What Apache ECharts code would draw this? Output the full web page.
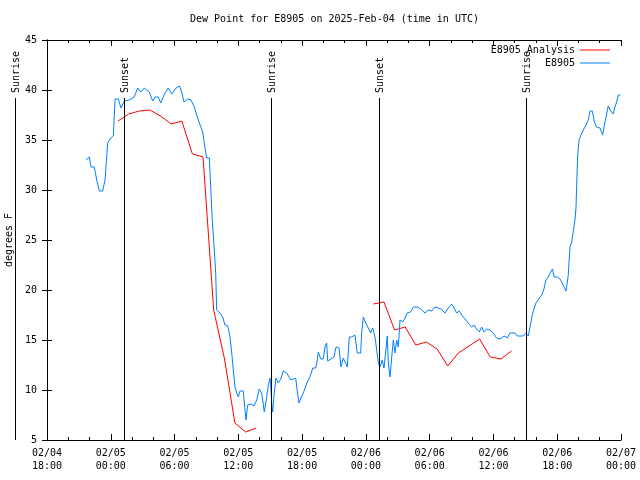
<!DOCTYPE html>
<html><head><meta charset="utf-8">
<script src="https://cdn.jsdelivr.net/npm/echarts@6/dist/echarts.min.js"></script>
<style>html,body{margin:0;padding:0;background:#fff}#c{width:640px;height:480px}</style>
</head><body><div id="c"></div>
<script>
// hours since 2025-02-04 18:00 UTC
const START_UTC = Date.UTC(2025, 1, 4, 18, 0);
const titleText = 'Dew Point for E8905 on 2025-Feb-04 (time in UTC)';
const stationName = 'E8905';
const analysisName = 'E8905 Analysis';

const stationHours = [3.67,3.98,4.14,4.45,4.68,4.92,5.24,5.46,5.71,5.93,6.24,6.40,6.71,6.96,7.27,7.74,8.21,8.53,8.84,9.15,9.62,9.94,10.16,10.47,10.70,11.10,11.41,11.73,12.14,12.45,12.67,12.89,13.24,13.55,13.86,14.23,14.65,14.86,15.02,15.27,15.40,15.55,15.74,15.87,15.93,15.96,16.27,16.53,16.74,17.00,17.22,17.38,17.53,17.69,17.85,18.00,18.16,18.47,18.56,18.72,18.88,19.19,19.47,19.73,19.97,20.20,20.44,20.60,20.82,20.98,21.04,21.14,21.23,21.38,21.54,21.76,21.99,22.23,22.55,22.95,23.40,23.55,23.71,23.89,24.11,24.27,24.49,24.74,25.00,25.28,25.43,25.52,25.75,25.99,26.15,26.31,26.41,26.56,27.00,27.19,27.47,27.66,27.87,28.03,28.25,28.44,28.66,28.97,29.19,29.51,29.60,29.76,29.98,30.23,30.45,30.64,30.86,31.02,31.17,31.33,31.54,31.70,31.86,32.01,32.11,32.27,32.43,32.58,32.74,32.90,33.05,33.21,33.46,33.68,33.89,34.21,34.46,34.84,35.16,35.34,35.56,35.87,36.19,36.50,36.81,37.06,37.44,37.75,38.07,38.29,38.54,38.79,39.01,39.32,39.63,39.95,40.17,40.42,40.67,40.89,41.11,41.36,41.67,41.98,42.30,42.62,42.87,43.09,43.30,43.56,44.03,44.24,44.81,45.06,45.28,45.44,45.69,46.00,46.31,46.54,46.75,46.94,47.16,47.38,47.55,47.71,48.02,48.27,48.55,48.83,49.04,49.20,49.36,49.51,49.67,49.77,49.83,49.92,50.05,50.24,50.45,50.61,50.77,50.92,51.08,51.30,51.49,51.71,52.02,52.28,52.40,52.59,52.80,53.03,53.27,53.43,53.59,53.75,53.95];
const stationDew = [33.0,33.3,32.3,32.3,31.0,29.9,29.9,31.0,34.7,35.1,35.4,39.1,39.1,38.2,38.9,39.0,39.3,40.2,39.8,40.2,39.8,38.9,39.3,39.3,38.7,39.7,40.2,39.6,40.2,40.4,39.8,38.8,39.1,39.0,38.3,37.0,35.8,34.2,33.2,33.2,30.3,27.0,24.0,21.7,19.3,18.0,17.7,17.3,16.5,16.4,15.3,13.7,12.0,10.3,9.7,9.3,9.9,9.9,8.7,7.0,8.5,8.6,8.4,9.0,10.1,9.7,7.8,8.8,10.5,11.2,10.5,8.7,7.8,9.7,11.2,10.7,11.1,11.9,11.7,11.0,11.2,9.8,8.7,9.2,9.7,9.8,10.8,11.3,12.2,12.2,13.0,13.8,13.1,13.1,14.3,14.7,12.9,13.1,13.3,14.3,14.2,12.3,13.2,13.0,12.3,15.3,15.3,15.5,13.7,13.7,15.7,17.3,16.7,16.2,15.7,16.2,15.3,14.0,12.7,12.3,13.0,12.2,13.8,15.4,12.7,11.3,13.3,15.0,13.7,15.0,14.3,17.0,16.8,17.2,17.7,17.8,18.3,18.3,18.1,18.3,17.7,18.0,17.9,18.3,18.2,18.1,17.7,18.2,18.6,18.2,17.7,17.9,17.5,17.1,16.7,16.3,16.5,16.1,15.8,16.3,15.8,16.1,16.0,15.7,15.2,15.1,15.3,15.4,15.2,15.7,15.7,15.4,15.4,15.7,15.4,16.3,17.7,18.7,19.2,19.5,20.1,21.0,21.3,21.8,22.1,21.3,21.3,21.1,20.5,19.9,21.5,24.3,24.8,25.0,27.0,28.3,30.5,33.3,35.0,35.5,36.0,36.3,36.1,37.0,37.9,37.9,36.8,36.3,36.2,35.5,36.3,37.3,38.4,37.9,37.6,38.3,38.8,39.5,39.5];

const analysisHoursDay1 = [6.68,7.68,8.68,9.68,10.68,11.68,12.68,13.68,14.68,15.68,16.68,17.68,18.68,19.68];
const analysisDewDay1   = [36.9,37.6,37.9,38.0,37.4,36.6,36.9,33.6,33.3,18.0,13.2,6.7,5.8,6.2];
const analysisHoursDay2 = [30.70,31.70,32.70,33.70,34.70,35.70,36.70,37.70,38.70,39.70,40.70,41.70,42.70,43.70];
const analysisDewDay2   = [18.6,18.8,16.0,16.3,14.5,14.8,14.1,12.4,13.7,14.4,15.1,13.3,13.1,13.9];

const sunEventHours  = [-3.0, 7.25, 21.07, 31.25, 45.05];
const sunEventLabels = ['Sunrise','Sunset','Sunrise','Sunset','Sunrise'];

const xMin = 0, xMax = 54, xStep = 6;
const yMin = 5, yMax = 45, yStep = 5;

const FONT = 'DejaVu Sans Mono';
const pad2 = n => String(n).padStart(2, '0');
function fmtTime(h) {
  const d = new Date(START_UTC + h * 3600e3);
  return pad2(d.getUTCMonth() + 1) + '/' + pad2(d.getUTCDate()) + '\n' + pad2(d.getUTCHours()) + ':' + pad2(d.getUTCMinutes());
}
const zip = (a, b) => a.map((v, i) => [v, b[i]]);

const chart = echarts.init(document.getElementById('c'), null, {renderer: 'canvas'});
const txt = {fontFamily: FONT, fontSize: 10, color: '#000'};
const axisCommon = {
  axisLine: {show: true, lineStyle: {color: '#000', width: 1}},
  splitLine: {show: false}
};
const lineSeries = (name, data, color) => ({
  type: 'line', name, data, showSymbol: false, symbol: 'none',
  lineStyle: {color, width: 1}, itemStyle: {color},
  xAxisIndex: 0, yAxisIndex: 0, animation: false, z: 3
});
const legendCommon = {
  orient: 'vertical', align: 'right', right: 30, itemWidth: 30, itemHeight: 1, icon: 'rect',
  padding: 0, textStyle: txt, selectedMode: false
};

chart.setOption({
  animation: false,
  backgroundColor: '#fff',
  title: {text: titleText, left: 190, top: 14, padding: 0,
    textStyle: {fontFamily: FONT, fontSize: 10, fontWeight: 'normal', color: '#000'}},
  legend: [
    Object.assign({data: [analysisName], top: 45}, legendCommon),
    Object.assign({data: [stationName], top: 58}, legendCommon)
  ],
  grid: {left: 47, right: 19, top: 40, bottom: 40, containLabel: false, outerBoundsMode: 'none'},
  xAxis: [
    Object.assign({type: 'value', position: 'bottom', min: xMin, max: xMax, interval: xStep,
      axisTick: {show: true, inside: true, length: 6, lineStyle: {color: '#000'}},
      minorTick: {show: true, splitNumber: 3, length: 3, lineStyle: {color: '#000'}},
      axisLabel: Object.assign({formatter: fmtTime, margin: 7, lineHeight: 13, showMinLabel: true, showMaxLabel: true}, txt)
    }, axisCommon),
    Object.assign({type: 'value', position: 'top', min: xMin, max: xMax, interval: xStep,
      axisTick: {show: true, inside: true, length: 6, lineStyle: {color: '#000'}},
      minorTick: {show: true, splitNumber: 3, length: 3, lineStyle: {color: '#000'}},
      axisLabel: {show: false}
    }, axisCommon)
  ],
  yAxis: [
    Object.assign({type: 'value', position: 'left', min: yMin, max: yMax, interval: yStep,
      name: 'degrees F', nameLocation: 'middle', nameGap: 31, nameRotate: 90, nameTextStyle: txt,
      axisTick: {show: true, inside: true, length: 5, lineStyle: {color: '#000'}},
      axisLabel: Object.assign({margin: 10}, txt)
    }, axisCommon),
    Object.assign({type: 'value', position: 'right', min: yMin, max: yMax, interval: yStep,
      axisTick: {show: true, inside: true, length: 5, lineStyle: {color: '#000'}},
      axisLabel: {show: false}
    }, axisCommon)
  ],
  series: [
    lineSeries(analysisName, zip(analysisHoursDay1, analysisDewDay1), '#ff0000'),
    lineSeries(analysisName, zip(analysisHoursDay2, analysisDewDay2), '#ff0000'),
    lineSeries(stationName, zip(stationHours, stationDew), '#0080ff')
  ]
});

// sunrise / sunset markers positioned through the axes
const yLineTop = chart.convertToPixel({yAxisIndex: 0}, 39.2);
const yLineBottom = chart.convertToPixel({yAxisIndex: 0}, yMin);
const yLabelBase = chart.convertToPixel({yAxisIndex: 0}, 39.7);
const graphics = [];
sunEventHours.forEach((h, i) => {
  const px = Math.round(chart.convertToPixel({xAxisIndex: 0}, h)) + 0.5;
  graphics.push({type: 'line', silent: true, z: 5,
    shape: {x1: px, y1: yLineTop, x2: px, y2: yLineBottom},
    style: {stroke: '#000', lineWidth: 1}});
  graphics.push({type: 'text', silent: true, z: 5, x: px + 1, y: yLabelBase, rotation: Math.PI / 2,
    style: {text: sunEventLabels[i], font: '10px ' + FONT, fill: '#000', align: 'left', verticalAlign: 'middle'}});
});
chart.setOption({graphic: graphics});
</script></body></html>
